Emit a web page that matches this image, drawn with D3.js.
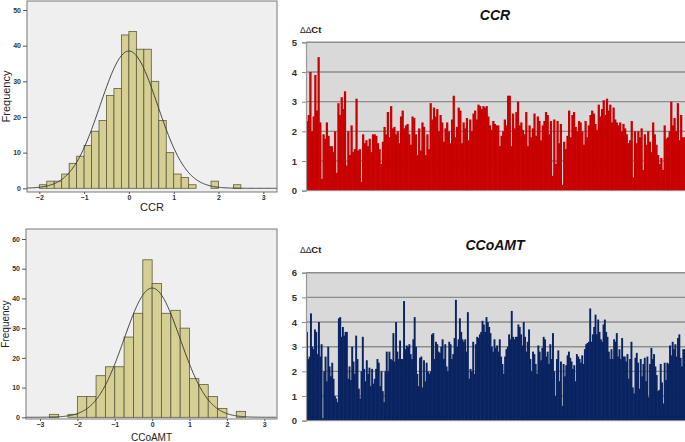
<!DOCTYPE html>
<html><head><meta charset="utf-8">
<script src="https://cdn.jsdelivr.net/npm/d3@7"></script>
<style>body{margin:0;background:#fff}svg{display:block;font-family:"Liberation Sans",Arial,sans-serif}</style>
</head><body><svg id="c" width="685" height="442"></svg>
<script>
// ---------- DATA ----------
const ccrHistStart = -2, ccrHistWidth = 1/6;
const ccrHistCounts = [1,2,2,4,7,9,12,16,19,26,28,43,44,39,39,30,19,10,4,3,1,0,0,2,0,0,1];
const ccrFit = {mean: 0, sd: 0.64, peak: 38.5};
const ccrHistXTicks = [-2,-1,0,1,2,3];
const ccrHistYTicks = [0,10,20,30,40,50];

const ccoHistStart = -2.75, ccoHistWidth = 0.25;
const ccoHistCounts = [1,0,1,7,7,14,17,17,27,35,53,45,35,36,30,13,11,7,3,0,2];
const ccoFit = {mean: 0, sd: 0.75, peak: 43.5};
const ccoHistXTicks = [-3,-2,-1,0,1,2,3];
const ccoHistYTicks = [0,10,20,30,40,50,60];

const ccrDdct = [2.35,2.55,4.0,2.0,2.5,3.9,2.7,4.5,2.3,0.4,1.9,1.75,2.3,1.85,1.5,1.5,1.3,2.0,0.6,
2.95,2.55,3.15,2.75,3.35,0.85,2.0,1.2,2.2,1.3,1.4,3.1,1.35,1.4,0.3,1.9,1.6,1.7,1.5,1.75,1.3,1.9,1.9,1.85,1.6,1.4,0.9,
1.65,2.15,1.9,2.65,1.8,2.85,2.1,2.15,1.9,2.0,1.6,2.5,2.7,2.1,2.2,2.25,1.9,1.55,2.5,2.45,1.9,1.2,2.1,1.35,2.3,2.15,1.2,1.9,1.4,2.95,2.4,2.8,2.5,2.75,2.0,2.55,2.3,1.65,2.1,2.3,2.0,1.6,2.4,3.2,1.8,2.15,2.8,2.7,1.6,2.3,2.1,2.45,1.7,2.4,2.0,2.6,2.7,2.4,2.9,2.85,2.75,2.85,2.8,2.85,2.5,2.2,2.05,2.35,2.25,2.2,2.2,1.5,1.85,2.0,2.4,2.2,3.2,3.2,1.5,2.6,2.1,2.65,3.0,2.2,2.3,2.05,1.9,2.65,1.5,2.2,1.8,2.1,2.6,1.85,2.5,2.35,1.7,2.2,2.35,2.65,2.55,1.9,2.35,
0.5,2.4,0.9,2.35,1.6,2.25,0.2,1.65,1.4,
1.85,2.7,1.8,2.55,2.65,2.15,2.0,2.35,2.3,2.0,1.55,2.35,1.8,2.2,2.55,2.7,2.6,2.25,2.05,2.9,2.5,2.75,3.05,2.55,3.1,2.7,2.9,2.3,2.8,2.4,2.3,2.2,2.3,2.0,2.25,2.1,1.9,1.6,1.7,2.35,0.45,
2.0,1.6,2.0,1.8,2.1,0.7,1.9,1.55,2.0,1.65,1.3,2.3,1.9,1.55,1.2,0.9,1.1,0.7,2.2,1.75,1.8,2.0,3.0,2.2,2.45,2.0,2.95,1.7,2.55,1.8,1.8];
const ccrDdctTicks = [0,1,2,3,4,5];

const ccoDdct = [3.6,2.5,2.6,4.35,3.0,2.9,3.7,3.6,2.7,4.0,2.6,3.1,0.1,2.0,2.6,1.6,3.0,2.2,1.8,2.35,1.7,1.0,0.9,0.75,4.15,4.2,3.4,3.8,3.45,3.6,3.6,1.7,2.2,1.65,3.0,2.4,1.9,3.45,2.5,1.3,0.9,2.0,3.4,2.1,1.6,2.45,1.9,2.15,1.4,2.1,1.5,1.7,2.1,2.5,2.35,1.4,2.0,1.2,0.75,2.0,2.8,2.0,2.8,2.5,2.45,3.55,2.4,4.0,2.8,2.5,3.25,2.5,2.5,4.85,2.9,3.05,3.0,3.1,2.7,2.5,3.3,4.2,3.0,1.9,1.4,2.55,2.6,1.35,2.45,1.6,2.35,2.0,1.9,2.0,3.5,3.55,2.5,3.2,3.1,2.8,2.75,3.0,3.3,2.5,3.1,2.2,2.0,3.2,3.1,2.5,2.7,3.35,4.9,3.0,3.3,4.15,3.6,3.3,3.2,3.3,2.8,4.4,1.7,2.1,2.0,3.2,1.9,3.1,3.4,3.35,3.5,3.6,4.05,3.9,3.6,4.2,4.0,3.8,3.55,3.0,2.8,3.3,2.95,3.05,2.8,3.3,2.6,2.3,1.9,2.6,2.9,3.0,3.5,3.3,4.45,3.4,3.3,3.4,3.4,3.9,3.8,3.5,3.05,4.0,3.4,2.8,3.2,3.7,2.5,2.0,2.8,2.7,2.3,1.9,3.05,2.8,2.45,2.95,3.4,3.3,2.6,2.8,2.3,3.1,2.5,3.55,2.0,1.0,2.5,2.85,1.6,2.4,0.6,2.3,1.8,2.25,2.65,2.8,2.55,2.4,2.1,2.25,1.6,2.7,2.6,2.5,2.35,2.65,2.3,2.9,3.1,3.15,3.2,4.55,3.2,3.5,3.8,4.3,3.5,4.1,3.6,3.3,3.2,3.9,4.1,3.6,3.4,2.8,2.5,2.9,2.5,3.3,3.2,3.55,2.6,2.9,2.5,3.35,2.6,2.6,2.4,2.7,1.7,2.5,3.2,1.35,1.1,2.55,2.75,2.35,1.3,2.5,1.8,2.3,2.55,1.6,2.6,0.95,2.3,2.95,2.5,2.7,2.2,1.85,1.2,1.25,2.3,1.55,0.7,2.35,1.65,2.35,2.3,3.05,2.65,3.2,2.9,3.1,2.6,3.35,3.5,2.55,2.2,2.9,2.9];
const ccoDdctTicks = [0,1,2,3,4,5,6];

const histXLabels = ["CCR", "CCoAMT"];
const ddctTitles = ["CCR", "CCoAMT"];
const ddctYLabel = ["ΔΔ", "Ct"];
const freqLabel = "Frequency";

// ---------- DRAW ----------
const svg = d3.select("#c");
const fmt = d3.format("d");

function histogram(o) {
  const g = svg.append("g");
  const x = d3.scaleLinear().domain([o.xTicks[0], o.xTicks[o.xTicks.length-1]]).range([o.xa, o.xb]);
  const y = d3.scaleLinear().domain([0, o.yTicks[o.yTicks.length-1]]).range([o.y0, o.yTop]);
  const clipId = "clip" + o.id;
  g.append("clipPath").attr("id", clipId).append("rect")
    .attr("x", o.left).attr("y", o.top).attr("width", o.right - o.left).attr("height", o.bottom - o.top);
  g.append("rect").attr("x", o.left).attr("y", o.top).attr("width", o.right - o.left).attr("height", o.bottom - o.top)
    .attr("fill", "#efefef");
  const bins = o.counts.map((c, i) => ({x0: o.start + i*o.width, x1: o.start + (i+1)*o.width, c}));
  g.selectAll("rect.bar").data(bins.filter(b => b.c > 0)).join("rect").attr("class","bar")
    .attr("x", b => x(b.x0)).attr("width", b => x(b.x1) - x(b.x0))
    .attr("y", b => y(b.c)).attr("height", b => y(0) - y(b.c))
    .attr("fill", "#d5cf93").attr("stroke", "#5c5a3c").attr("stroke-width", 0.8);
  const xs = d3.range(x.invert(o.left), x.invert(o.right), 0.02);
  const line = d3.line().x(v => x(v)).y(v => y(o.fit.peak * Math.exp(-Math.pow(v - o.fit.mean, 2) / (2*o.fit.sd*o.fit.sd)))).curve(d3.curveBasis);
  g.append("path").datum(xs).attr("d", line).attr("fill","none").attr("stroke","#333").attr("stroke-width",0.9)
    .attr("clip-path", `url(#${clipId})`);
  g.append("rect").attr("x", o.left).attr("y", o.top).attr("width", o.right - o.left).attr("height", o.bottom - o.top)
    .attr("fill", "none").attr("stroke", "#6a6a6a").attr("stroke-width", 0.9);
  const ya = g.append("g").attr("transform", `translate(${o.left},0)`)
    .call(d3.axisLeft(y).tickValues(o.yTicks).tickFormat(fmt).tickSize(4).tickPadding(2));
  const xa = g.append("g").attr("transform", `translate(0,${o.bottom})`)
    .call(d3.axisBottom(x).tickValues(o.xTicks).tickFormat(fmt).tickSize(2).tickPadding(1));
  [ya, xa].forEach(a => {
    a.select(".domain").remove();
    a.selectAll("line").attr("stroke", "#555");
    a.selectAll("text").attr("font-size", o.tickFont).attr("font-weight", "bold").attr("fill", "#333")
      .attr("font-family", '"Liberation Sans",Arial,sans-serif');
  });
  g.append("text").attr("transform", `translate(${o.freqX},${(o.top + o.bottom)/2}) rotate(-90)`)
    .attr("text-anchor", "middle").attr("font-size", o.labFont).attr("fill", "#222").text(freqLabel);
  g.append("text").attr("x", (o.left + o.right)/2).attr("y", o.labY)
    .attr("text-anchor", "middle").attr("font-size", o.labFont).attr("fill", "#222").text(o.label);
}

function ddctChart(o) {
  const g = svg.append("g");
  const x = d3.scaleBand().domain(d3.range(o.values.length)).range([o.left, o.right]).padding(0);
  const y = d3.scaleLinear().domain([0, o.ticks[o.ticks.length-1]]).range([o.y0, o.yTop]);
  g.append("rect").attr("x", o.left).attr("y", o.yTop).attr("width", o.right - o.left).attr("height", o.y0 - o.yTop)
    .attr("fill", "#d9d9d9");
  g.selectAll("line.grid").data(o.ticks.filter(t => t > 0)).join("line").attr("class","grid")
    .attr("x1", o.left).attr("x2", o.right).attr("y1", d => y(d)).attr("y2", d => y(d))
    .attr("stroke", "#8d8d8d").attr("stroke-width", 1.4);
  g.selectAll("rect.bar").data(o.values).join("rect").attr("class","bar")
    .attr("x", (d, i) => x(i)).attr("width", x.bandwidth() + 0.6)
    .attr("y", d => y(d)).attr("height", d => y(0) - y(d))
    .attr("fill", o.color);
  g.append("line").attr("x1", o.left).attr("x2", o.right).attr("y1", y(0)).attr("y2", y(0))
    .attr("stroke", "#9a9a9a").attr("stroke-width", 1);
  const ya = g.append("g").attr("transform", `translate(${o.left},0)`)
    .call(d3.axisLeft(y).tickValues(o.ticks).tickFormat(fmt).tickSize(4).tickPadding(5));
  ya.select(".domain").attr("stroke", "#999").attr("stroke-width", 1.2);
  ya.selectAll("line").attr("stroke", "#888");
  ya.selectAll("text").attr("font-size", 9.5).attr("font-weight", "bold").attr("fill", "#333")
    .attr("font-family", '"Liberation Sans",Arial,sans-serif');
  g.append("text").attr("x", o.titleX).attr("y", o.titleY).attr("text-anchor", "middle")
    .attr("font-size", 14).attr("font-weight", "bold").attr("font-style", "italic").attr("fill", "#111").text(o.title);
  const t = g.append("text").attr("x", 300).attr("y", o.labY).attr("fill", "#222");
  t.append("tspan").attr("font-size", 8.5).text(ddctYLabel[0]);
  t.append("tspan").attr("font-size", 9.5).attr("font-weight", "bold").text(ddctYLabel[1]);
}

histogram({id: 1, counts: ccrHistCounts, start: ccrHistStart, width: ccrHistWidth, fit: ccrFit,
  xTicks: ccrHistXTicks, yTicks: ccrHistYTicks, xa: 39.3, xb: 263.3, y0: 188.3, yTop: 10,
  left: 27, right: 277, top: 1, bottom: 192, tickFont: 7, labFont: 11, freqX: 10, labY: 211, label: histXLabels[0]});
histogram({id: 2, counts: ccoHistCounts, start: ccoHistStart, width: ccoHistWidth, fit: ccoFit,
  xTicks: ccoHistXTicks, yTicks: ccoHistYTicks, xa: 40, xb: 264.3, y0: 417.3, yTop: 239,
  left: 26, right: 277, top: 229, bottom: 419, tickFont: 7, labFont: 10, freqX: 9, labY: 441, label: histXLabels[1]});

ddctChart({values: ccrDdct, ticks: ccrDdctTicks, left: 306, right: 685, y0: 190.7, yTop: 42.3,
  color: "#c80000", title: ddctTitles[0], titleX: 495, titleY: 19.5, labY: 32.5});
ddctChart({values: ccoDdct, ticks: ccoDdctTicks, left: 306, right: 685, y0: 420.7, yTop: 272.7,
  color: "#0a2462", title: ddctTitles[1], titleX: 495, titleY: 249.5, labY: 252.5});
</script></body></html>
